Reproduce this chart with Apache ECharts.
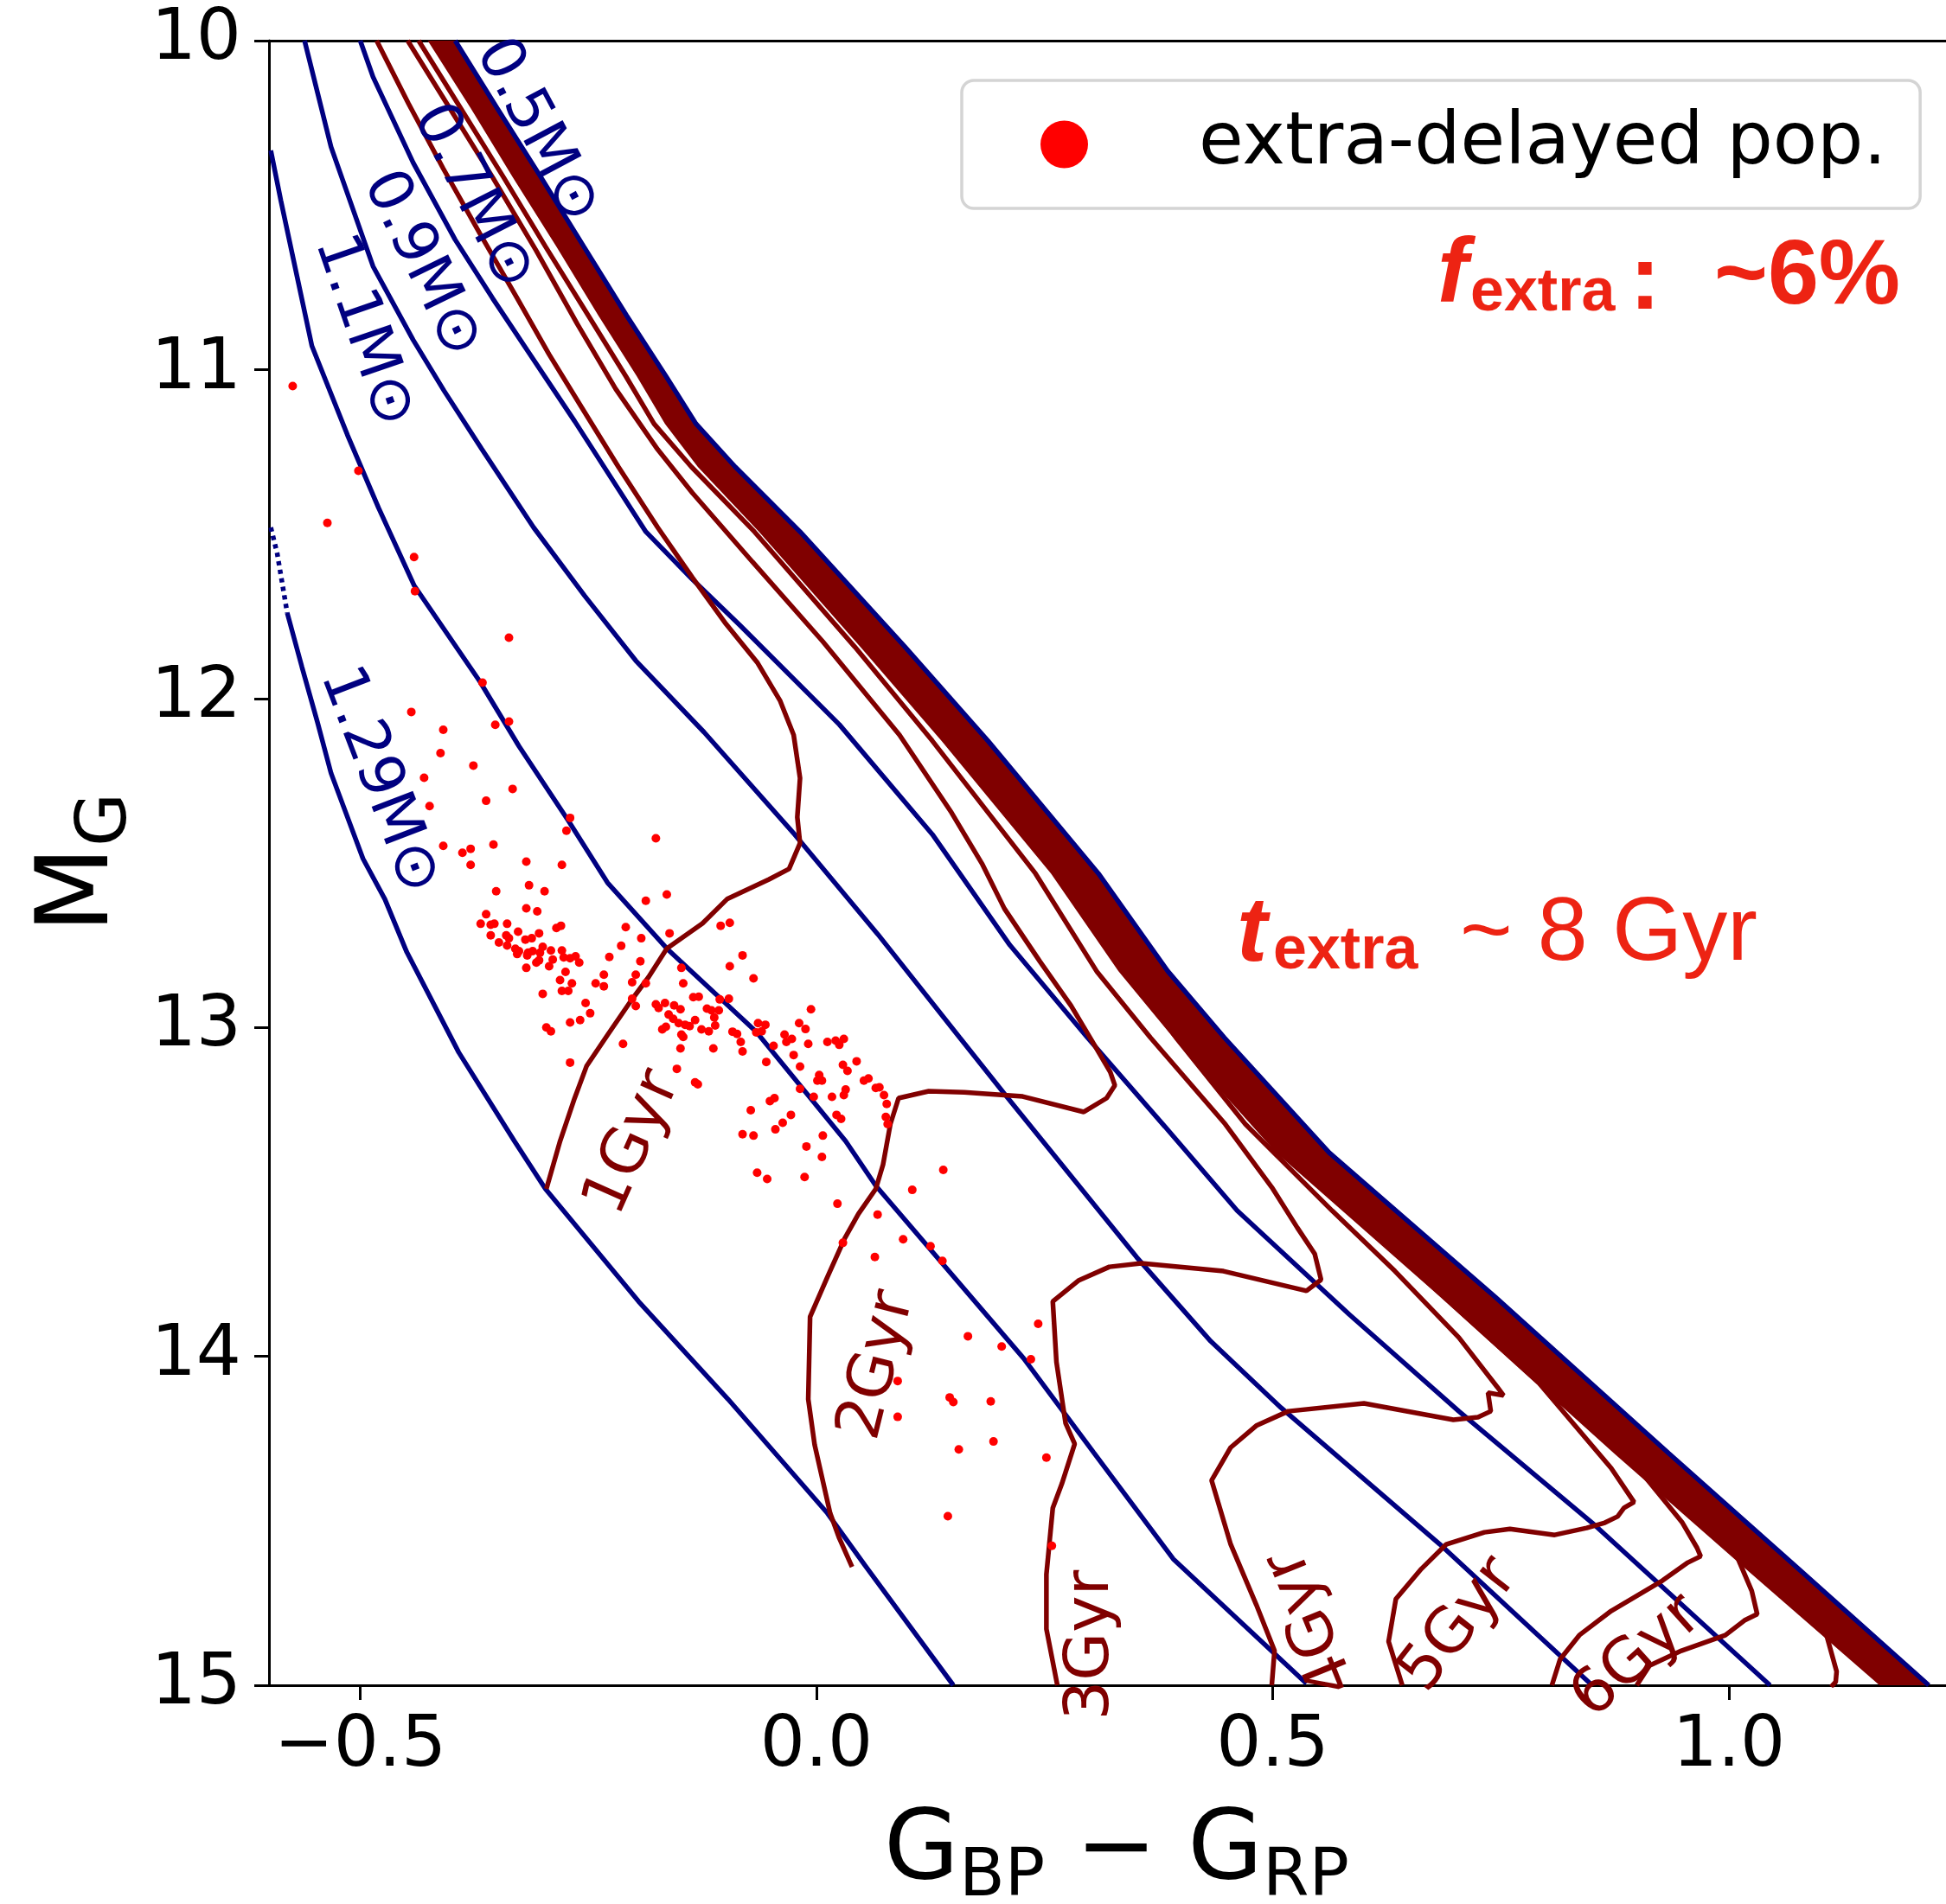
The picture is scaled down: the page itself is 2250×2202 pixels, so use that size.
<!DOCTYPE html>
<html><head><meta charset="utf-8">
<script src="https://cdn.jsdelivr.net/npm/echarts/dist/echarts.min.js"></script>
<style>html,body{margin:0;padding:0;background:#fff}#c{width:2250px;height:2202px}</style>
</head><body><div id="c"></div>
<script>
// ---------------- DATA ----------------
const xTicks = [-0.5, 0.0, 0.5, 1.0];
const legendName = 'extra-delayed pop.';
const massLabelText = ['0.5M\u2299','0.7M\u2299','0.9M\u2299','1.1M\u2299','1.29M\u2299'];
const ageLabelText = ['1Gyr','2Gyr','3Gyr','4Gyr','5Gyr','6Gyr'];

// WD cooling tracks (colour, M_G)
const track050 = [[-0.396,10.0],[-0.350,10.205],[-0.302,10.415],[-0.255,10.626],[-0.208,10.836],[-0.165,11.020],[-0.132,11.165],[-0.089,11.296],[-0.018,11.493],[0.097,11.843],[0.188,12.129],[0.309,12.532],[0.385,12.829],[0.447,13.031],[0.562,13.381],[0.635,13.557],[0.744,13.820],[0.934,14.295],[1.077,14.648],[1.219,15.0]];
const track070 = [[-0.500,10.0],[-0.486,10.110],[-0.442,10.371],[-0.396,10.605],[-0.355,10.783],[-0.317,10.941],[-0.265,11.157],[-0.187,11.493],[-0.136,11.638],[-0.084,11.777],[0.025,12.079],[0.127,12.413],[0.212,12.750],[0.297,13.031],[0.382,13.302],[0.461,13.557],[0.584,13.873],[0.704,14.167],[0.850,14.506],[1.045,15.0]];
const track090 = [[-0.561,10.0],[-0.532,10.323],[-0.486,10.686],[-0.442,10.910],[-0.408,11.065],[-0.367,11.241],[-0.310,11.480],[-0.254,11.688],[-0.198,11.885],[-0.123,12.103],[-0.024,12.413],[0.067,12.716],[0.157,13.031],[0.206,13.202],[0.351,13.699],[0.432,13.954],[0.509,14.156],[0.683,14.571],[0.850,15.0]];
const track110 = [[-0.598,10.334],[-0.587,10.486],[-0.569,10.720],[-0.553,10.928],[-0.514,11.199],[-0.480,11.420],[-0.441,11.656],[-0.369,11.948],[-0.326,12.145],[-0.272,12.371],[-0.229,12.560],[-0.164,12.760],[-0.066,13.013],[0.032,13.346],[0.065,13.481],[0.227,14.006],[0.304,14.293],[0.391,14.616],[0.537,14.995]];
const track129Dotted = [[-0.598,11.480],[-0.591,11.559],[-0.580,11.740]];
const track129 = [[-0.580,11.740],[-0.564,11.903],[-0.547,12.071],[-0.532,12.227],[-0.497,12.487],[-0.473,12.610],[-0.449,12.771],[-0.392,13.076],[-0.331,13.346],[-0.297,13.491],[-0.195,13.833],[-0.097,14.130],[0.012,14.477],[0.053,14.635],[0.150,15.0]];

// Isochrones
const iso1 = [[-0.482,10.0],[-0.447,10.192],[-0.409,10.389],[-0.369,10.586],[-0.328,10.783],[-0.293,10.954],[-0.258,11.112],[-0.217,11.296],[-0.174,11.480],[-0.136,11.632],[-0.099,11.774],[-0.065,11.890],[-0.040,12.006],[-0.025,12.111],[-0.018,12.242],[-0.021,12.361],[-0.018,12.440],[-0.030,12.518],[-0.052,12.550],[-0.098,12.610],[-0.125,12.684],[-0.164,12.760],[-0.184,12.847],[-0.203,12.918],[-0.229,13.023],[-0.252,13.118],[-0.265,13.215],[-0.281,13.346],[-0.296,13.491]];
const iso2 = [[-0.448,10.0],[-0.402,10.205],[-0.355,10.415],[-0.307,10.639],[-0.262,10.862],[-0.220,11.059],[-0.174,11.243],[-0.136,11.375],[-0.070,11.585],[0.007,11.827],[0.091,12.111],[0.148,12.347],[0.182,12.505],[0.206,12.639],[0.245,12.800],[0.279,12.934],[0.302,13.041],[0.322,13.136],[0.327,13.176],[0.318,13.215],[0.293,13.257],[0.226,13.210],[0.162,13.197],[0.123,13.194],[0.090,13.215],[0.081,13.294],[0.073,13.417],[0.065,13.491],[0.046,13.567],[0.031,13.641],[0.012,13.759],[-0.007,13.880],[-0.009,14.130],[-0.002,14.269],[0.015,14.477],[0.025,14.553],[0.039,14.640]];
const iso3 = [[-0.436,10.0],[-0.390,10.205],[-0.343,10.415],[-0.297,10.626],[-0.250,10.836],[-0.209,11.020],[-0.178,11.165],[-0.137,11.296],[-0.068,11.493],[0.042,11.843],[0.127,12.129],[0.240,12.532],[0.307,12.829],[0.366,13.031],[0.448,13.294],[0.499,13.486],[0.527,13.609],[0.546,13.688],[0.553,13.767],[0.537,13.801],[0.446,13.741],[0.356,13.717],[0.321,13.728],[0.287,13.770],[0.259,13.833],[0.263,14.017],[0.273,14.203],[0.283,14.266],[0.269,14.387],[0.259,14.461],[0.252,14.663],[0.252,14.829],[0.264,15.0]];
const iso4 = [[0.159,12.129],[0.281,12.532],[0.342,12.829],[0.394,13.031],[0.470,13.294],[0.565,13.557],[0.634,13.741],[0.704,13.943],[0.746,14.093],[0.753,14.119],[0.736,14.111],[0.739,14.167],[0.725,14.185],[0.698,14.193],[0.600,14.143],[0.517,14.167],[0.482,14.211],[0.454,14.277],[0.433,14.377],[0.454,14.572],[0.482,14.755],[0.502,14.895],[0.499,15.0]];
const iso5 = [[0.285,12.532],[0.358,12.829],[0.413,13.031],[0.523,13.381],[0.584,13.557],[0.688,13.820],[0.792,14.082],[0.871,14.340],[0.896,14.443],[0.885,14.461],[0.878,14.487],[0.864,14.506],[0.844,14.522],[0.809,14.543],[0.760,14.525],[0.732,14.535],[0.690,14.572],[0.663,14.646],[0.635,14.738],[0.627,14.867],[0.642,15.0]];
const iso6 = [[0.538,13.381],[0.610,13.557],[0.715,13.820],[0.812,14.082],[0.887,14.295],[0.949,14.506],[0.965,14.582],[0.969,14.608],[0.955,14.627],[0.927,14.682],[0.871,14.774],[0.836,14.848],[0.815,14.921],[0.806,15.0]];
const iso7 = [[0.617,13.557],[0.724,13.820],[0.824,14.082],[0.948,14.387],[1.010,14.616],[1.025,14.713],[1.031,14.784],[1.017,14.803],[0.996,14.848],[0.948,14.895],[0.913,14.940],[0.899,15.0]];
const iso8 = [[0.731,13.820],[0.916,14.295],[1.045,14.616],[1.107,14.848],[1.118,14.958],[1.117,14.990],[1.112,15.005]];
// band of older, overlapping isochrones: right (blue) edge = track050, left edge:
const isoOldLeftEdge = [[-0.426,10.0],[-0.379,10.205],[-0.333,10.415],[-0.285,10.626],[-0.239,10.836],[-0.197,11.020],[-0.166,11.165],[-0.130,11.296],[-0.063,11.493],[0.048,11.843],[0.137,12.129],[0.257,12.532],[0.331,12.829],[0.391,13.031],[0.504,13.381],[0.576,13.557],[0.684,13.820],[0.874,14.295],[1.019,14.648],[1.165,15.0]];

// extra-delayed population (colour, M_G)
const extraDelayed = [
[-0.574,11.050],[-0.502,11.308],[-0.536,11.466],[-0.441,11.570],[-0.440,11.674],[-0.337,11.815],[-0.366,11.952],[-0.444,12.041],[-0.409,12.095],[-0.352,12.080],[-0.337,12.070],[-0.412,12.166],[-0.376,12.204],[-0.430,12.241],[-0.333,12.275],[-0.362,12.311],[-0.424,12.327],[-0.270,12.363],[-0.274,12.402],[-0.176,12.425],[-0.409,12.448],[-0.388,12.469],[-0.379,12.457],[-0.354,12.444],[-0.379,12.506],[-0.318,12.496],[-0.279,12.506],
[-0.351,12.586],[-0.315,12.568],[-0.298,12.586],[-0.318,12.638],[-0.306,12.647],[-0.362,12.656],[-0.368,12.685],[-0.357,12.688],[-0.353,12.685],[-0.339,12.685],[-0.327,12.709],[-0.340,12.720],[-0.357,12.720],[-0.348,12.742],[-0.337,12.729],[-0.319,12.733],[-0.312,12.729],[-0.304,12.714],[-0.339,12.751],[-0.330,12.761],[-0.326,12.768],[-0.328,12.777],[-0.316,12.773],[-0.317,12.781],[-0.311,12.768],[-0.303,12.773],[-0.300,12.755],[-0.291,12.766],[-0.279,12.766],[-0.285,12.698],[-0.280,12.691],[-0.289,12.794],[-0.307,12.803],[-0.304,12.796],[-0.318,12.819],[-0.293,12.814],[-0.277,12.787],[-0.270,12.790],[-0.264,12.784],[-0.260,12.803],[-0.275,12.831],[-0.281,12.856],[-0.268,12.866],[-0.279,12.889],[-0.272,12.889],[-0.300,12.898],[-0.253,12.926],[-0.248,12.957],[-0.259,12.978],[-0.270,12.985],[-0.296,13.000],[-0.291,13.012],[-0.270,13.107],[-0.212,13.050],
[-0.187,12.615],[-0.164,12.596],[-0.209,12.695],[-0.192,12.729],[-0.214,12.752],[-0.227,12.786],[-0.193,12.799],[-0.161,12.714],[-0.105,12.691],[-0.095,12.682],[-0.081,12.781],[-0.095,12.814],[-0.069,12.851],[-0.233,12.840],[-0.242,12.866],[-0.233,12.875],[-0.198,12.840],[-0.202,12.863],[-0.187,12.866],[-0.202,12.913],[-0.198,12.935],[-0.148,12.819],[-0.146,12.866],[-0.135,12.908],[-0.129,12.907],[-0.106,12.915],[-0.096,12.913],[-0.176,12.930],[-0.166,12.926],[-0.156,12.933],[-0.173,12.941],[-0.149,12.945],[-0.162,12.961],[-0.157,12.974],[-0.151,12.987],[-0.144,12.992],[-0.139,12.996],[-0.133,12.978],[-0.120,12.943],[-0.115,12.948],[-0.112,12.970],[-0.111,12.994],[-0.107,12.948],[-0.126,13.006],[-0.118,13.012],[-0.169,13.006],[-0.165,12.998],[-0.148,13.022],[-0.146,13.029],[-0.149,13.064],[-0.113,13.064],[-0.153,13.126],[-0.133,13.167],[-0.130,13.173],
[-0.092,13.013],[-0.087,13.020],[-0.083,13.044],[-0.081,13.073],[-0.064,12.987],[-0.056,12.992],[-0.060,13.012],[-0.066,13.015],[-0.047,13.056],[-0.035,13.022],[-0.033,13.044],[-0.027,13.035],[-0.019,12.987],[-0.012,13.005],[-0.009,13.050],[-0.006,12.945],[-0.025,13.084],[-0.018,13.119],[-0.055,13.105],[0.012,13.044],[0.021,13.040],[0.025,13.053],[0.030,13.035],[0.029,13.114],[0.034,13.132],[0.044,13.103],[0.003,13.145],[0.001,13.162],[0.006,13.162],[0.032,13.189],[0.030,13.206],[0.017,13.211],[-0.003,13.211],[-0.018,13.187],[0.052,13.162],[0.057,13.155],[0.065,13.184],[0.069,13.182],[0.074,13.206],[0.077,13.233],[-0.051,13.224],[-0.046,13.215],[-0.072,13.252],[-0.028,13.266],[-0.037,13.290],[-0.045,13.310],[-0.081,13.325],[-0.069,13.329],[0.007,13.329],[0.022,13.266],[0.027,13.278],[0.076,13.272],[0.078,13.294],
[-0.011,13.362],[0.006,13.394],[-0.065,13.442],[-0.054,13.461],[-0.013,13.455],[0.023,13.536],[0.067,13.569],[0.095,13.644],[0.064,13.698],[0.125,13.665],[0.138,13.710],[0.139,13.433],[0.105,13.494],[0.166,13.939],[0.203,13.970],[0.243,13.901],[0.235,14.009],[0.089,14.075],[0.146,14.125],[0.150,14.139],[0.191,14.137],[0.089,14.184],[0.156,14.283],[0.194,14.259],[0.252,14.308],[0.144,14.486],[0.258,14.576],[0.029,13.655]
];

// ---------------- LAYOUT / STYLE ----------------
const NAVY = '#000080', MAROON = '#800000', RED = '#ff0000', ANNO = '#ED2313';
const LW = 5.5;
const XMAX = 1.2578;
const labelLayout = {
  mass: [[-0.307,10.276,-62],[-0.377,10.476,-63],[-0.433,10.681,-64],[-0.497,10.883,-71],[-0.480,12.250,-69]],
  age:  [[-0.200,13.352,66],[0.068,14.028,76],[0.302,14.878,90],[0.543,14.808,112],[0.705,14.818,52],[0.900,14.916,42]]
};

function line(data, color, width, extra) {
  return Object.assign({type:'line', data:data, symbol:'none', showSymbol:false, silent:true,
    clip:true, legendHoverLink:false, lineStyle:{color:color, width:width}, z:2}, extra||{});
}

const xRich = {
  a:{fontSize:112, fontFamily:'DejaVu Sans', color:'#000', lineHeight:126, verticalAlign:'top'},
  b:{fontSize:77, fontFamily:'DejaVu Sans', color:'#000', lineHeight:87, verticalAlign:'top', padding:[46,0,0,0]}
};
const yRich = {
  a:{fontSize:116, fontFamily:'DejaVu Sans', color:'#000', lineHeight:130, verticalAlign:'top'},
  b:{fontSize:80, fontFamily:'DejaVu Sans', color:'#000', lineHeight:90, verticalAlign:'top', padding:[48,0,0,0]}
};

const option = {
  animation:false,
  backgroundColor:'#fff',
  textStyle:{fontFamily:'DejaVu Sans'},
  grid:{left:311, top:47, right:-21, bottom:253, containLabel:false, outerBoundsMode:'none'},
  legend:{
    data:[legendName], left:1112, top:93, padding:[32,39,32,91],
    itemWidth:55, itemHeight:55, icon:'circle', selectedMode:false,
    borderColor:'#d4d4d4', borderWidth:3.5, borderRadius:14, backgroundColor:'#ffffff',
    formatter: n => '{g| }{t|' + n + '}',
    textStyle:{rich:{g:{width:123}, t:{fontSize:84, fontFamily:'DejaVu Sans', color:'#000', lineHeight:100}}}
  },
  xAxis:[{
    type:'value', min:-0.6, max:XMAX, position:'bottom',
    axisLine:{show:true, onZero:false, lineStyle:{color:'#000', width:3}},
    axisTick:{show:true, length:17, customValues:xTicks, lineStyle:{color:'#000', width:3}},
    axisLabel:{customValues:xTicks, fontSize:82, fontFamily:'DejaVu Sans', color:'#000', margin:31,
      formatter: v => (v < 0 ? '\u2212' : '') + Math.abs(v).toFixed(1)},
    splitLine:{show:false},
    name:'{a|G}{b|BP}{a| \u2212 G}{b|RP}', nameLocation:'middle', nameGap:138,
    nameTextStyle:{rich:xRich}
  },{
    type:'value', min:-0.6, max:XMAX, position:'top',
    axisLine:{show:true, onZero:false, lineStyle:{color:'#000', width:3}},
    axisTick:{show:false}, axisLabel:{show:false}, splitLine:{show:false}
  }],
  yAxis:{
    type:'value', inverse:true, min:10, max:15, interval:1,
    axisLine:{show:true, onZero:false, lineStyle:{color:'#000', width:3}},
    axisTick:{show:true, length:17, lineStyle:{color:'#000', width:3}},
    axisLabel:{fontSize:82, fontFamily:'DejaVu Sans', color:'#000', margin:32},
    splitLine:{show:false},
    name:'{a|M}{b|G}', nameLocation:'middle', nameRotate:90, nameGap:136,
    nameTextStyle:{rich:yRich}
  },
  series:[
    {type:'scatter', name:legendName, data:extraDelayed, symbol:'circle', symbolSize:10,
     itemStyle:{color:RED, opacity:1}, silent:true, z:2},
    line(track050, NAVY, LW),
    line(track070, NAVY, LW),
    line(track090, NAVY, LW),
    line(track110, NAVY, LW),
    line(track129, NAVY, LW),
    line(track129Dotted, NAVY, LW, {lineStyle:{color:NAVY, width:LW, type:[5,5]}}),
    line(iso8, MAROON, LW),
    line(iso7, MAROON, LW),
    line(iso6, MAROON, LW),
    line(iso5, MAROON, LW),
    line(iso4, MAROON, LW),
    line(iso3, MAROON, LW),
    line(iso2, MAROON, LW),
    line(iso1, MAROON, LW),
    {type:'custom', data:[0], silent:true, clip:true, z:2,
     renderItem: function (params, api) {
       const pts = [];
       track050.forEach(p => pts.push(api.coord(p)));
       for (let i = isoOldLeftEdge.length - 1; i >= 0; i--) pts.push(api.coord(isoOldLeftEdge[i]));
       return {type:'polygon', shape:{points:pts}, style:{fill:MAROON, stroke:null}};
     }}
  ]
};

const chart = echarts.init(document.getElementById('c'), null, {renderer:'canvas', width:2250, height:2202});
chart.setOption(option);

const els = [];
function px(x, y) { return chart.convertToPixel({xAxisIndex:0, yAxisIndex:0}, [x, y]); }
massLabelText.forEach((t, i) => {
  const L = labelLayout.mass[i]; const p = px(L[0], L[1]);
  els.push({type:'text', x:p[0], y:p[1], rotation:L[2]*Math.PI/180, z:100, silent:true,
    style:{text:t, fill:NAVY, fontSize:70, fontFamily:'DejaVu Sans', align:'center', verticalAlign:'middle'}});
});
ageLabelText.forEach((t, i) => {
  const L = labelLayout.age[i]; const p = px(L[0], L[1]);
  els.push({type:'text', x:p[0], y:p[1], rotation:L[2]*Math.PI/180, z:100, silent:true,
    style:{text:t, fill:MAROON, fontSize:72, fontFamily:'DejaVu Sans', align:'center', verticalAlign:'middle'}});
});
function anno(x, y, text, size, weight, style, family, align, valign) {
  els.push({type:'text', x:x, y:y, z:110, silent:true,
    style:{text:text, fill:ANNO, fontSize:size, fontWeight:weight, fontStyle:style,
      fontFamily:family || 'Liberation Sans', align:align || 'left', verticalAlign:valign || 'bottom'}});
}
anno(1662, 373, 'f', 106, 'bold', 'italic');
anno(1700, 375, 'extra', 70, 'bold', 'normal');
anno(1884, 381, ':', 108, 'bold', 'normal');
anno(1982, 375, '~6%', 106, 'bold', 'normal');
anno(1430, 1135, 't', 106, 'bold', 'italic');
anno(1472, 1136, 'extra', 70, 'bold', 'normal');
anno(1688, 1133, '~ 8 Gyr', 104, 'normal', 'normal');
chart.setOption({graphic:{elements:els}});
</script></body></html>
